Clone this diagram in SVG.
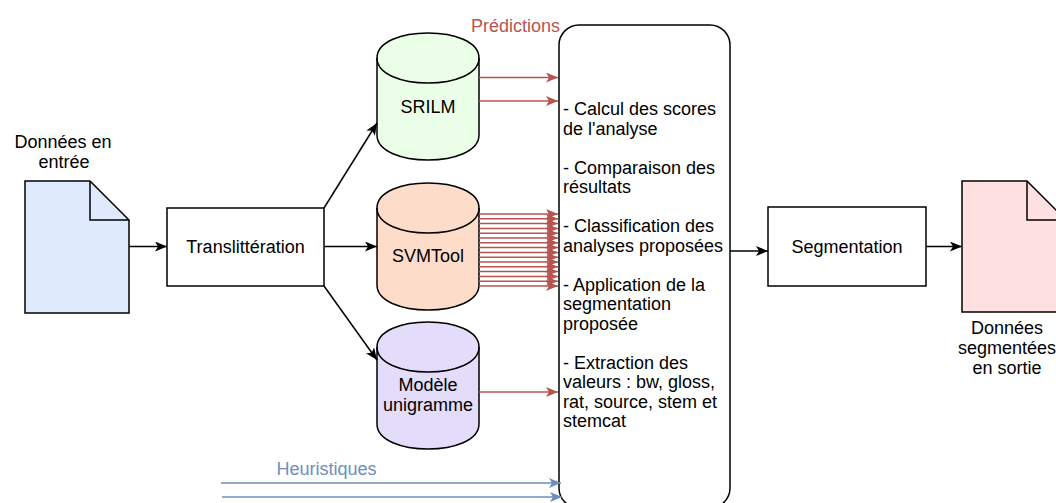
<svg xmlns="http://www.w3.org/2000/svg" width="1056" height="503" viewBox="0 0 1056 503">
<style>
text{font-family:"Liberation Sans",Arial,sans-serif;font-size:18px;fill:#000}
.c{text-anchor:middle}
.shape{stroke:#000;stroke-width:1.5}
.k{stroke:#000;stroke-width:1.5;fill:none}
.r{stroke:#b85450;stroke-width:1.5;fill:none}
.b{stroke:#6c8ebf;stroke-width:1.5;fill:none}
</style>
<defs>
<marker id="ak" markerUnits="userSpaceOnUse" markerWidth="13" markerHeight="11" refX="12" refY="5" orient="auto"><path d="M0,0 L12,5 L0,10 L3,5 z" fill="#000"/></marker>
<marker id="ar" markerUnits="userSpaceOnUse" markerWidth="13" markerHeight="11" refX="12" refY="5" orient="auto"><path d="M0,0 L12,5 L0,10 L3,5 z" fill="#b85450"/></marker>
<marker id="ab" markerUnits="userSpaceOnUse" markerWidth="13" markerHeight="11" refX="12" refY="5" orient="auto"><path d="M0,0 L12,5 L0,10 L3,5 z" fill="#6c8ebf"/></marker>
</defs>

<g id="input-doc">
<path class="shape" fill="#dfeafc" d="M25,181 H90 L129,220 V313 H25 Z"/>
<path class="shape" fill="none" d="M90,181 V220 H129"/>
<text class="c" x="63" y="148">Données en</text>
<text class="c" x="64" y="168">entrée</text>
</g>

<g id="translit">
<rect class="shape" fill="#fff" x="167" y="208" width="157" height="78"/>
<text class="c" x="245.5" y="252.5">Translittération</text>
</g>

<g id="srilm">
<path class="shape" fill="#ebffe8" d="M377,58 C377,24.7 479,24.7 479,58 V135 C479,168.3 377,168.3 377,135 Z"/>
<path class="shape" fill="none" d="M377,58 C377,91.3 479,91.3 479,58"/>
<text class="c" x="428" y="113">SRILM</text>
</g>

<g id="svmtool">
<path class="shape" fill="#fddcc9" d="M377,208 C377,174.7 479,174.7 479,208 V285 C479,318.3 377,318.3 377,285 Z"/>
<path class="shape" fill="none" d="M377,208 C377,241.3 479,241.3 479,208"/>
<text class="c" x="428" y="262">SVMTool</text>
</g>

<g id="unigramme">
<path class="shape" fill="#e3dcfb" d="M377,347 C377,313.7 479,313.7 479,347 V424 C479,457.3 377,457.3 377,424 Z"/>
<path class="shape" fill="none" d="M377,347 C377,380.3 479,380.3 479,347"/>
<text class="c" x="428" y="391">Modèle</text>
<text class="c" x="428" y="410.5">unigramme</text>
</g>

<g id="process">
<rect class="shape" fill="#fff" x="559" y="25" width="171" height="483" rx="20" ry="20"/>
<text x="563" y="115">- Calcul des scores</text>
<text x="563" y="134.5">de l'analyse</text>
<text x="563" y="173.5">- Comparaison des</text>
<text x="563" y="193">résultats</text>
<text x="563" y="232">- Classification des</text>
<text x="563" y="251.5">analyses proposées</text>
<text x="563" y="290.5">- Application de la</text>
<text x="563" y="310">segmentation</text>
<text x="563" y="329.5">proposée</text>
<text x="563" y="368.5">- Extraction des</text>
<text x="563" y="388">valeurs : bw, gloss,</text>
<text x="563" y="407.5">rat, source, stem et</text>
<text x="563" y="427">stemcat</text>
</g>

<g id="segmentation">
<rect class="shape" fill="#fff" x="768" y="207" width="158" height="79"/>
<text class="c" x="847" y="252.5">Segmentation</text>
</g>

<g id="output-doc">
<path class="shape" fill="#fde0df" d="M962,181 H1027 L1066,220 V312 H962 Z"/>
<path class="shape" fill="none" d="M1027,181 V220 H1066"/>
<text class="c" x="1007" y="333.5">Données</text>
<text class="c" x="1007" y="353.5">segmentées</text>
<text class="c" x="1007" y="373.5">en sortie</text>
</g>

<g id="labels">
<text class="c" x="515.5" y="31.5" style="fill:#b85450">Prédictions</text>
<text class="c" x="326.5" y="475" style="fill:#6c8ebf">Heuristiques</text>
</g>

<g id="connectors">
<path class="k" d="M129,246.5 H167" marker-end="url(#ak)"/>
<path class="k" d="M324,246.5 H377" marker-end="url(#ak)"/>
<path class="k" d="M324,208 L377,123" marker-end="url(#ak)"/>
<path class="k" d="M324,286 L377,360" marker-end="url(#ak)"/>
<path class="k" d="M730,251 H768" marker-end="url(#ak)"/>
<path class="k" d="M926,246.5 H962" marker-end="url(#ak)"/>

<path class="r" d="M479,77.5 H558" marker-end="url(#ar)"/>
<path class="r" d="M479,101 H558" marker-end="url(#ar)"/>
<path class="r" d="M479,392 H558" marker-end="url(#ar)"/>
<path class="r" d="M479,214 H558" marker-end="url(#ar)"/>
<path class="r" d="M479,218.8 H558" marker-end="url(#ar)"/>
<path class="r" d="M479,223.6 H558" marker-end="url(#ar)"/>
<path class="r" d="M479,228.4 H558" marker-end="url(#ar)"/>
<path class="r" d="M479,233.2 H558" marker-end="url(#ar)"/>
<path class="r" d="M479,238 H558" marker-end="url(#ar)"/>
<path class="r" d="M479,242.8 H558" marker-end="url(#ar)"/>
<path class="r" d="M479,247.6 H558" marker-end="url(#ar)"/>
<path class="r" d="M479,252.4 H558" marker-end="url(#ar)"/>
<path class="r" d="M479,257.2 H558" marker-end="url(#ar)"/>
<path class="r" d="M479,262 H558" marker-end="url(#ar)"/>
<path class="r" d="M479,266.8 H558" marker-end="url(#ar)"/>
<path class="r" d="M479,271.6 H558" marker-end="url(#ar)"/>
<path class="r" d="M479,276.4 H558" marker-end="url(#ar)"/>
<path class="r" d="M479,281.2 H558" marker-end="url(#ar)"/>
<path class="r" d="M479,286 H558" marker-end="url(#ar)"/>

<path class="b" d="M221,483 H561" marker-end="url(#ab)"/>
<path class="b" d="M222,497 H562" marker-end="url(#ab)"/>
</g>
</svg>
